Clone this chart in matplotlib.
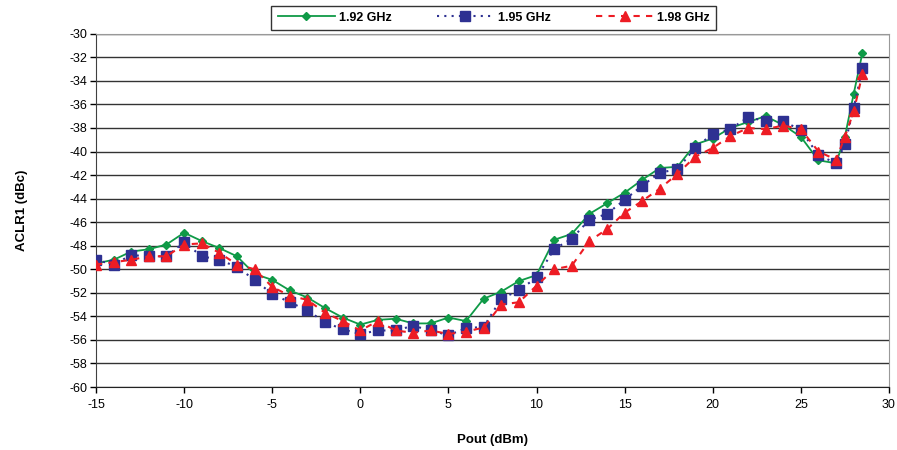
import matplotlib
matplotlib.use("Agg")
import matplotlib.pyplot as plt

plt.rcParams['font.family'] = ['Liberation Sans', 'DejaVu Sans']
plt.rcParams['axes.unicode_minus'] = False

# Output power (dBm)
pout = [-15, -14, -13, -12, -11, -10, -9, -8, -7, -6, -5, -4, -3, -2, -1,
        0, 1, 2, 3, 4, 5, 6, 7, 8, 9, 10, 11, 12, 13, 14, 15, 16, 17, 18,
        19, 20, 21, 22, 23, 24, 25, 26, 27, 27.5, 28, 28.5]

aclr_192 = [-49.5, -49.2, -48.5, -48.3, -47.9, -46.9, -47.6, -48.2, -48.9,
            -50.4, -50.9, -51.8, -52.4, -53.3, -54.1, -54.7, -54.3, -54.2,
            -54.6, -54.6, -54.1, -54.4, -52.5, -51.9, -51.0, -50.5, -47.5,
            -47.0, -45.3, -44.4, -43.5, -42.4, -41.4, -41.3, -39.4, -38.9,
            -38.0, -37.5, -37.0, -37.75, -38.75, -40.75, -41.0, -38.75,
            -35.1, -31.6]

aclr_195 = [-49.2, -49.6, -48.8, -48.9, -48.9, -47.7, -48.9, -49.2, -49.8,
            -50.9, -52.1, -52.8, -53.5, -54.5, -55.1, -55.5, -55.2, -55.2,
            -54.8, -55.2, -55.6, -55.0, -54.9, -52.5, -51.8, -50.7, -48.3,
            -47.4, -45.8, -45.3, -44.1, -42.9, -41.8, -41.5, -39.7, -38.5,
            -38.1, -37.1, -37.4, -37.4, -38.2, -40.3, -41.0, -39.4, -36.3,
            -32.9]

aclr_198 = [-49.6, -49.4, -49.2, -48.9, -48.9, -47.9, -47.8, -48.6, -49.6,
            -50.0, -51.5, -52.25, -52.6, -53.7, -54.4, -55.2, -54.4, -55.2,
            -55.4, -55.2, -55.5, -55.3, -54.95, -53.0, -52.8, -51.4, -50.0,
            -49.7, -47.6, -46.6, -45.2, -44.2, -43.15, -41.9, -40.45, -39.7,
            -38.7, -38.0, -38.1, -37.8, -38.1, -40.0, -40.7, -38.75, -36.6,
            -33.4]

labels = ['1.92 GHz', '1.95 GHz', '1.98 GHz']

fig = plt.figure(figsize=(8.97, 4.5), dpi=100)
ax = fig.add_axes([0.107, 0.14, 0.884, 0.785])

ax.plot(pout, aclr_192, color='#0f9a47', linewidth=1.3, linestyle='-',
        marker='D', markersize=4.5, label=labels[0], zorder=3)
ax.plot(pout, aclr_195, color='#2e3192', linewidth=1.5, linestyle=(0, (1, 2.5)),
        marker='s', markersize=6.5, label=labels[1], zorder=4)
ax.plot(pout, aclr_198, color='#ed1c24', linewidth=1.5, linestyle=(0, (3, 3)),
        marker='^', markersize=7, label=labels[2], zorder=5)

ax.set_xlim(-15, 30)
ax.set_ylim(-60, -30)
ax.set_xticks(range(-15, 31, 5))
ax.set_yticks(range(-60, -29, 2))
ax.tick_params(axis='both', labelsize=9, length=4, width=1, direction='out')
ax.tick_params(axis='y', pad=2)
ax.tick_params(axis='x', pad=5)

ax.grid(True, axis='y', color='#333333', linewidth=1)
ax.set_axisbelow(True)
ax.spines['left'].set_color('#404040')
ax.spines['bottom'].set_color('#222222')
ax.spines['top'].set_color('#999999')
ax.spines['right'].set_color('#999999')

ax.set_xlabel('Pout (dBm)', fontsize=9.5, fontweight='bold', labelpad=16)
ax.set_ylabel('ACLR1 (dBc)', fontsize=9.5, fontweight='bold', labelpad=30)

leg = fig.legend(loc='center', bbox_to_anchor=(0.5505, 0.9605), ncol=3,
                 fontsize=9, frameon=True, fancybox=False, handlelength=4.6,
                 columnspacing=3.6, borderpad=0.5, handletextpad=0.3)
leg.get_frame().set_edgecolor('black')
leg.get_frame().set_linewidth(1)
for t in leg.get_texts():
    t.set_fontweight('bold')

fig.savefig('out.png', dpi=100)
